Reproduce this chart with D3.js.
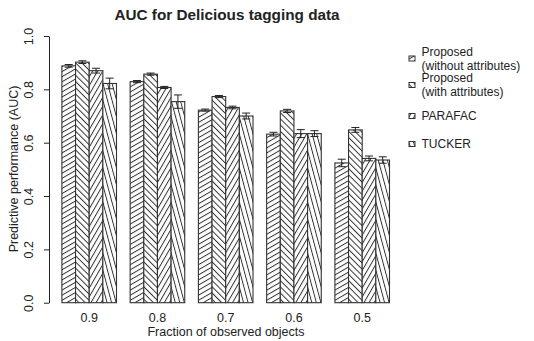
<!DOCTYPE html>
<html>
<head>
<meta charset="utf-8">
<script src="https://cdn.jsdelivr.net/npm/d3@7"></script>
<style>
  body { margin: 0; background: #fff; }
  text { font-family: "Liberation Sans", Arial, sans-serif; fill: #222; }
</style>
</head>
<body>
<div id="chart"></div>
<script>
// data
var fractions = ["0.9", "0.8", "0.7", "0.6", "0.5"];
var methods = ["without", "with", "parafac", "tucker"];
var legendLabels = [["Proposed", "(without attributes)"], ["Proposed", "(with attributes)"], ["PARAFAC"], ["TUCKER"]];
var aucWithout = [0.888, 0.829, 0.722, 0.632, 0.524];
var aucWith    = [0.902, 0.857, 0.773, 0.719, 0.648];
var aucParafac = [0.870, 0.807, 0.732, 0.634, 0.541];
var aucTucker  = [0.822, 0.754, 0.700, 0.634, 0.535];
var errWithout = [0.005, 0.004, 0.004, 0.007, 0.014];
var errWith    = [0.005, 0.004, 0.004, 0.006, 0.009];
var errParafac = [0.009, 0.004, 0.005, 0.015, 0.009];
var errTucker  = [0.020, 0.025, 0.011, 0.011, 0.012];
var yTicks = [0, 0.2, 0.4, 0.6, 0.8, 1.0];

// hatch angles (R style, degrees counter-clockwise)
var angles = [30, 135, 60, 105];

var width = 534, height = 341;

var svg = d3.select("#chart")
  .append("svg")
    .attr("width", width)
    .attr("height", height);

var defs = svg.append("defs");
methods.forEach(function(m, i) {
  var p = defs.append("pattern")
    .attr("id", "hatch-" + m)
    .attr("patternUnits", "userSpaceOnUse")
    .attr("width", 10)
    .attr("height", 4.4)
    .attr("patternTransform", "rotate(" + (-angles[i]) + ")");
  p.append("rect").attr("width", 10).attr("height", 4.4).attr("fill", "#fff");
  p.append("line")
    .attr("x1", 0).attr("x2", 10)
    .attr("y1", 0.5).attr("y2", 0.5)
    .attr("stroke", "#222").attr("stroke-width", 0.9);
});

// build rows for drawing
var values = [aucWithout, aucWith, aucParafac, aucTucker];
var errors = [errWithout, errWith, errParafac, errTucker];
var data = fractions.map(function(f, g) {
  return {
    fraction: f,
    bars: methods.map(function(m, i) {
      return { method: m, value: values[i][g], err: errors[i][g] };
    })
  };
});

// scales
var x0 = d3.scaleBand()
  .domain(fractions)
  .range([48.25, 389.5])
  .paddingInner(0.2)
  .paddingOuter(0.1)
  .align(1);

var x1 = d3.scaleBand()
  .domain(methods)
  .range([0, x0.bandwidth()])
  .padding(0);

var y = d3.scaleLinear()
  .domain([0, 1])
  .range([302.7, 36]);

// bars
var groups = svg.append("g")
  .selectAll("g")
  .data(data)
  .enter()
  .append("g")
    .attr("transform", function(d) { return "translate(" + x0(d.fraction) + ",0)"; });

groups.selectAll("rect")
  .data(function(d) { return d.bars; })
  .enter()
  .append("rect")
    .attr("x", function(d) { return x1(d.method); })
    .attr("y", function(d) { return y(d.value); })
    .attr("width", x1.bandwidth())
    .attr("height", function(d) { return y(0) - y(d.value); })
    .attr("fill", function(d) { return "url(#hatch-" + d.method + ")"; })
    .attr("stroke", "#333")
    .attr("stroke-width", 1.1);

// error bars
var eb = groups.selectAll("g.err")
  .data(function(d) { return d.bars; })
  .enter()
  .append("g")
    .attr("class", "err")
    .attr("stroke", "#222")
    .attr("stroke-width", 1);
eb.append("line")
  .attr("x1", function(d) { return x1(d.method) + x1.bandwidth() / 2; })
  .attr("x2", function(d) { return x1(d.method) + x1.bandwidth() / 2; })
  .attr("y1", function(d) { return y(d.value - d.err); })
  .attr("y2", function(d) { return y(d.value + d.err); });
eb.append("line")
  .attr("x1", function(d) { return x1(d.method) + x1.bandwidth() / 2 - 4; })
  .attr("x2", function(d) { return x1(d.method) + x1.bandwidth() / 2 + 4; })
  .attr("y1", function(d) { return y(d.value + d.err); })
  .attr("y2", function(d) { return y(d.value + d.err); });
eb.append("line")
  .attr("x1", function(d) { return x1(d.method) + x1.bandwidth() / 2 - 4; })
  .attr("x2", function(d) { return x1(d.method) + x1.bandwidth() / 2 + 4; })
  .attr("y1", function(d) { return y(d.value - d.err); })
  .attr("y2", function(d) { return y(d.value - d.err); });

// y axis
var yAxis = svg.append("g")
  .attr("transform", "translate(49,0)")
  .call(d3.axisLeft(y).tickValues(yTicks).tickFormat(d3.format(".1f")).tickSize(5).tickSizeOuter(0));
yAxis.select(".domain").attr("stroke", "#222");
yAxis.selectAll(".tick line").attr("stroke", "#222");
yAxis.selectAll(".tick text")
  .attr("x", 0).attr("dy", 0)
  .attr("transform", "translate(-16,0) rotate(-90)")
  .attr("text-anchor", "middle")
  .style("font-size", "12.5px")
  .style("font-family", "Liberation Sans, Arial, sans-serif")
  .attr("fill", "#222");

// x labels (no axis line)
svg.append("g")
  .selectAll("text")
  .data(fractions)
  .enter()
  .append("text")
    .attr("x", function(d) { return x0(d) + x0.bandwidth() / 2; })
    .attr("y", 321.5)
    .attr("text-anchor", "middle")
    .style("font-size", "12.5px")
    .text(function(d) { return d; });

// titles
svg.append("text")
  .attr("x", 227)
  .attr("y", 20)
  .attr("text-anchor", "middle")
  .style("font-size", "15.3px")
  .style("font-weight", "bold")
  .text("AUC for Delicious tagging data");

svg.append("text")
  .attr("x", 226)
  .attr("y", 336)
  .attr("text-anchor", "middle")
  .style("font-size", "12.5px")
  .text("Fraction of observed objects");

svg.append("text")
  .attr("transform", "translate(17.5,169) rotate(-90)")
  .attr("text-anchor", "middle")
  .style("font-size", "12.5px")
  .text("Predictive performance (AUC)");

// legend
var legendBoxY = [58.5, 85, 116, 144];
var legend = svg.append("g")
  .selectAll("g")
  .data(methods)
  .enter()
  .append("g")
    .attr("transform", function(d, i) { return "translate(409," + legendBoxY[i] + ")"; });

legend.append("rect")
  .attr("x", 0).attr("y", -2.5)
  .attr("width", 6).attr("height", 5)
  .attr("fill", function(d) { return "url(#hatch-" + d + ")"; })
  .attr("stroke", "#333")
  .attr("stroke-width", 1);

legend.each(function(d, i) {
  var lines = legendLabels[i];
  var g = d3.select(this);
  lines.forEach(function(t, k) {
    var off = lines.length === 1 ? 0 : (k === 0 ? -7 : 7);
    g.append("text")
      .attr("x", 12.5)
      .attr("y", off + 4.3)
      .style("font-size", "12px")
      .text(t);
  });
});
</script>
</body>
</html>
